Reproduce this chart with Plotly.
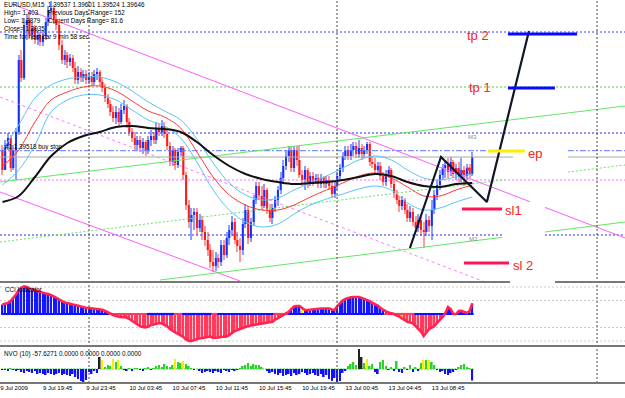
import plotly.graph_objects as go

# ---------------- data ----------------
PRICE_BASE = 1.3800          # price = PRICE_BASE + pips * PIP
PIP = 0.0001

FIRST_BAR = -15              # bar index 0 = 9 Jul 19:45 (EURUSD, M15)
first_open_pips = 150

close_pips = [
    130, 155, 162, 132, 150, 168, 240, 222, 275, 280,
    265, 272, 260, 265, 258, 264, 278, 290, 292, 280,
    275, 255, 240, 245, 238, 242, 232, 220, 228, 222,
    226, 220, 224, 218, 226, 228, 218, 212, 202, 196,
    188, 182, 188, 178, 190, 194, 178, 168, 162, 155,
    160, 152, 158, 150, 160, 164, 160, 172, 168, 174,
    166, 154, 138, 150, 135, 148, 152, 125, 95, 78,
    85, 88, 72, 80, 68, 60, 50, 38, 34, 42,
    38, 55, 45, 62, 70, 78, 60, 54, 50, 76,
    90, 62, 78, 100, 114, 104, 94, 110, 90, 82,
    92, 100, 110, 122, 134, 144, 150, 132, 150, 140,
    125, 120, 130, 118, 124, 118, 122, 116, 122, 116,
    120, 114, 106, 114, 124, 132, 144, 150, 144, 150,
    154, 146, 152, 146, 150, 156, 138, 136, 130, 134,
    124, 118, 126, 130, 116, 106, 100, 94, 100, 90,
    82, 88, 78, 72, 80, 70, 68, 80, 74, 90,
    105, 115, 125, 132, 135, 128, 138, 126, 132, 124,
    130, 124, 132, 126, 143]

high_pips = [
    155, 160, 167, 165, 155, 172, 245, 250, 282, 286,
    288, 278, 275, 270, 268, 270, 282, 294, 299, 295,
    285, 278, 260, 250, 248, 246, 245, 238, 234, 232,
    230, 230, 228, 228, 230, 232, 230, 222, 216, 206,
    200, 194, 194, 192, 196, 200, 196, 182, 172, 168,
    164, 164, 162, 160, 164, 170, 168, 178, 176, 180,
    178, 170, 158, 154, 152, 152, 154, 154, 128, 100,
    92, 92, 92, 86, 84, 74, 68, 56, 50, 48,
    46, 60, 60, 68, 75, 84, 82, 68, 62, 82,
    96, 94, 82, 105, 118, 118, 114, 116, 112, 96,
    96, 104, 114, 128, 140, 150, 154, 153, 154, 154,
    154, 130, 134, 132, 128, 128, 126, 126, 126, 124,
    124, 124, 120, 118, 128, 136, 148, 154, 154, 156,
    158, 158, 160, 156, 154, 158, 158, 144, 142, 138,
    138, 128, 130, 134, 132, 120, 110, 104, 104, 102,
    96, 94, 92, 84, 86, 84, 78, 86, 84, 100,
    110, 120, 130, 136, 140, 142, 143, 140, 136, 138,
    142, 134, 136, 136, 148]

low_pips = [
    125, 130, 150, 128, 130, 120, 165, 218, 220, 260,
    262, 260, 256, 255, 254, 254, 260, 274, 282, 276,
    270, 250, 236, 235, 232, 234, 228, 216, 216, 218,
    218, 216, 216, 214, 215, 220, 214, 208, 198, 192,
    184, 178, 176, 174, 176, 186, 172, 164, 158, 150,
    150, 148, 146, 144, 146, 154, 156, 156, 164, 164,
    162, 150, 134, 134, 130, 132, 144, 120, 90, 72,
    60, 70, 65, 68, 60, 54, 44, 32, 28, 29,
    32, 34, 40, 42, 55, 64, 56, 48, 38, 45,
    72, 56, 58, 74, 96, 100, 90, 92, 86, 78,
    76, 88, 94, 106, 118, 130, 138, 128, 128, 134,
    122, 114, 110, 112, 114, 114, 116, 112, 112, 112,
    112, 110, 102, 102, 110, 120, 128, 140, 140, 140,
    144, 142, 142, 140, 142, 146, 134, 132, 126, 126,
    120, 114, 114, 122, 112, 102, 96, 88, 90, 86,
    78, 78, 74, 68, 68, 64, 52, 64, 68, 60,
    86, 100, 110, 120, 122, 122, 124, 122, 120, 118,
    118, 114, 120, 122, 124]

# moving-average envelope, read every 6 bars
ma_bars = [-15, -9, -3, 3, 9, 15, 21, 27, 33, 39, 45, 51, 57, 63, 69,
           75, 81, 87, 93, 99, 105, 111, 117, 123, 129, 135, 141, 147, 153, 159]
ma_slow_pips = [98, 104, 123, 144, 157, 164, 168, 173, 174, 172, 171, 168, 158, 145, 134,
                126, 121, 118, 116, 117, 118, 120, 123, 126, 124, 118, 114, 113, 116, 117]
ma_mid_pips = [134, 150, 178, 200, 208, 213, 214, 209, 199, 189, 183, 172, 148, 123, 105,
               95, 90, 90, 95, 103, 110, 117, 124, 127, 122, 113, 104, 104, 110, 115]
band_up_pips = [150, 175, 202, 215, 221, 223, 223, 218, 209, 198, 189, 180, 161, 137, 117,
                105, 100, 102, 110, 117, 124, 132, 140, 144, 140, 130, 122, 120, 123, 126]
band_lo_pips = [115, 130, 155, 188, 200, 205, 205, 200, 190, 180, 174, 162, 138, 110, 90,
                78, 73, 76, 86, 95, 101, 106, 111, 114, 110, 97, 90, 92, 98, 103]

cci_values = [
    70, 74, 81, 96, 119, 144, 178, 196, 204, 200,
    189, 181, 178, 170, 163, 156, 152, 148, 141, 130,
    119, 107, 96, 85, 81, 74, 70, 67, 59, 56,
    52, 44, 44, 41, 41, 39, 37, 32, 22, 11,
    0, -7, -15, -22, -24, -24, -26, -37, -52, -63,
    -78, -91, -96, -99, -93, -81, -78, -70, -67, -70,
    -81, -91, -111, -126, -137, -148, -159, -170, -189, -200,
    -200, -193, -185, -180, -178, -174, -170, -167, -178, -178,
    -174, -170, -170, -167, -156, -141, -126, -119, -111, -106,
    -96, -89, -85, -81, -78, -74, -70, -67, -63, -59,
    -57, -41, -30, -19, -7, 0, 15, 37, 56, 59,
    59, 44, 30, 30, 33, 35, 37, 37, 41, 41,
    42, 41, 33, 30, 59, 81, 99, 111, 119, 124,
    126, 128, 126, 119, 111, 104, 96, 81, 70, 63,
    44, 30, 19, 11, 7, 0, -11, -19, -33, -48,
    -57, -63, -69, -89, -111, -130, -163, -133, -111, -100,
    -89, -63, -44, -22, 5, 52, 37, 0, 0, 22,
    24, 15, 7, 22, 78]
cci_yellow_bars = [27, 96, 133]
cci_zero_segments = [(-15, 24, "b"), (25, 38, "r"), (39, 48, "b"), (49, 51, "r"),
                     (52, 62, "b"), (63, 64, "r"), (65, 85, "b"), (86, 90, "r"),
                     (91, 126, "b"), (127, 137, "r"), (138, 159, "b")]
cci_levels = [200, 100, -100, -200]

nvo_values = [
    -5, -5, -10, 5, -5, -10, -5, -15, -20, -10,
    -15, -20, -10, -25, -20, -25, -30, -20, -25, -30,
    -25, -20, -30, -25, -30, -35, -25, -40, -50, -60,
    -65, -55, -15, -25, -10, -20, 60, 45, 10, 20,
    15, 50, 35, 45, 15, -5, -10, 5, -10, 5,
    5, -5, -10, 5, 10, -5, 5, 15, 20, 10,
    25, 15, 10, 20, 50, 35, 30, 40, 25, 15,
    5, -5, 0, -10, -20, -15, -10, -15, -20, -10,
    -15, -20, -5, -10, -15, -5, -10, -5, 5, 15,
    20, 30, 15, 25, 20, 20, 10, 0, -10, -20,
    -15, -25, -30, -20, -35, -30, -25, -35, -20, -30,
    -25, -15, -20, -30, -25, -20, -30, -35, -25, -40,
    -30, -50, -60, -45, -65, -60, -20, -10, 15, 25,
    35, 20, 100, 60, 30, 50, 15, 25, -15, -25,
    35, 45, 15, -5, 10, -10, 40, -15, -20, 10,
    -5, 20, -15, 10, -10, 30, 45, 45, 45, 35,
    20, -5, -15, -10, -25, -30, -20, -15, -5, 10,
    20, 25, 10, 5, -57.6271]
nvo_yellow_bars = [22, 26, 28, 49, 52, 120, 141, 143]
nvo_black_bars = [21, 117, 118]

tick_bars = [-15.85, 0, 16, 32, 48, 64, 80, 96, 112, 128, 144]
tick_labels = ["9 Jul 2009", "9 Jul 19:45", "9 Jul 23:45", "10 Jul 03:45", "10 Jul 07:45",
               "10 Jul 11:45", "10 Jul 15:45", "10 Jul 19:45", "13 Jul 00:45",
               "13 Jul 04:45", "13 Jul 08:45"]
day_separator_bars = [17.04, 108.9, 205.2]

# horizontal levels (pips) and the stretches where they are hidden
level_tp2 = 268
level_tp1 = 213
level_m3 = 167
level_buystop = 149.3
level_bid = 143
level_pink = 120
level_m2 = 65

# trend lines: (bar0, pips0, bar1, pips1)
tl_magenta_top = (-11.5, 296, 215.6, 62)
tl_magenta_low = (-15.93, 108, 72.96, 19)
tl_pink_dash = (-15.93, 203, 163.7, 18)
tl_green_up = (-15.93, 118, 215.6, 194)
tl_green_low = (43.3, 20, 215.6, 78)
tl_green_dot = (-15.93, 58, 215.6, 135)

zigzag_bars = [135.9, 147.4, 164.4, 180.0]
zigzag_pips = [52, 143, 98, 269]

# trade plan marks: (bar0, bar1, pips)
mark_tp2 = (172.2, 197.8, 266)
mark_tp1 = (172.2, 189.6, 212)
mark_ep = (164.8, 178.5, 149)
mark_sl1 = (155.2, 170.0, 91)
mark_sl2 = (155.9, 172.6, 37)

plan_labels = ["tp 2", "tp 1", "ep", "sl1", "sl 2"]
plan_label_bars = [156.3, 157.0, 179.0, 170.4, 173.3]
plan_label_pips = [265, 213, 147, 90, 35]
murrey_labels = ["M3", "M2"]
murrey_label_bars = [158.9, 159.3]
murrey_label_pips = [163, 61]

fractal_bars = [153, 155.5, 157.5]
fractal_pips = [130, 128, 131]

header_lines = ["EURUSD,M15  1.39537 1.39601 1.39524 1.39646",
                "High= 1.403", "Low= 1.3879", "Close= 1.3935",
                "Time for next bar 9 min 58 sec"]
header_right = ["Previous Days Range= 152", "Current Days Range= 81.6"]
order_text = "#1 1.39518 buy stop"
cci_title = "CCI Indicator"
nvo_title = "NVO (10) -57.6271 0.0000 0.0000 0.0000 0.0000"

# ---------------- build ----------------
n = len(close_pips)
assert len(high_pips) == n and len(low_pips) == n, (len(high_pips), len(low_pips), n)
assert len(cci_values) == n and len(nvo_values) == n, (len(cci_values), len(nvo_values))
bars = list(range(FIRST_BAR, FIRST_BAR + n))


def price(p):
    return None if p is None else PRICE_BASE + p * PIP


opens = [first_open_pips] + close_pips[:-1]

W, H = 625, 398
PB = 15                   # bottom margin (x labels)
PH = H - PB               # plot area height in px
XR = [-15.93, 215.56]


def py(px):               # pixel row -> paper y
    return (PH - px) / PH


def pxx(px):              # pixel column -> paper x
    return px / W


MAIN_DOM = [py(281), 1]
CCI_DOM = [py(345), py(283)]
NVO_DOM = [0, py(347)]

fig = go.Figure()

BLUE_BODY, BLUE_WICK = "#1430ff", "#8c9cff"
RED_BODY, RED_WICK = "#ff1a1a", "#ff9a9a"

# candles
for is_up, body_c, wick_c in [(True, BLUE_BODY, BLUE_WICK), (False, RED_BODY, RED_WICK)]:
    idx = [k for k in range(n) if (close_pips[k] >= opens[k]) == is_up]
    xs = [bars[k] for k in idx]
    fig.add_trace(go.Bar(
        x=xs, y=[(high_pips[k] - low_pips[k]) * PIP for k in idx],
        base=[price(low_pips[k]) for k in idx], width=0.4,
        marker=dict(color=wick_c, line=dict(width=0)), xaxis="x", yaxis="y",
        showlegend=False, hoverinfo="skip"))
    fig.add_trace(go.Bar(
        x=xs, y=[max(abs(close_pips[k] - opens[k]), 1) * PIP for k in idx],
        base=[price(min(close_pips[k], opens[k])) for k in idx], width=0.75,
        marker=dict(color=body_c, line=dict(width=0)), xaxis="x", yaxis="y",
        showlegend=False, hoverinfo="skip"))


def add_line(xs, ys, color, width=1, dash="solid", shape="linear", axis=("x", "y")):
    fig.add_trace(go.Scatter(x=xs, y=[price(v) for v in ys], mode="lines",
                             line=dict(color=color, width=width, dash=dash, shape=shape),
                             xaxis=axis[0], yaxis=axis[1], showlegend=False,
                             hoverinfo="skip", connectgaps=False))


def gapped(x0, y0, x1, y1, gaps):
    xs, ys = [x0], [y0]
    for g0, g1 in gaps:
        t0 = (g0 - x0) / (x1 - x0)
        t1 = (g1 - x0) / (x1 - x0)
        xs += [g0, None, g1]
        ys += [y0 + (y1 - y0) * t0, None, y0 + (y1 - y0) * t1]
    xs.append(x1)
    ys.append(y1)
    return xs, ys


DOT = "2px,2px"
GAP_A = [(174.1, 194.4)]

# horizontal levels
add_line(*gapped(XR[0], level_tp2, XR[1], level_tp2, []), "#3c3cff", 1, DOT)
add_line(*gapped(XR[0], level_tp1, XR[1], level_tp1, []), "#4cd24c", 1, DOT)
add_line(*gapped(XR[0], level_m3, XR[1], level_m3, []), "#2424e6", 1, DOT)
add_line(*gapped(XR[0], level_buystop, XR[1], level_buystop, [(164.8, 194.4)]),
         "#5a78ff", 1, "6px,2px,2px,2px")
add_line(*gapped(XR[0], level_bid, XR[1], level_bid, GAP_A), "#a8a8a8", 1)
add_line(*gapped(XR[0], level_pink, XR[1], level_pink, []), "#ff6cff", 1, DOT)
add_line(*gapped(XR[0], level_m2, XR[1], level_m2, [(170.4, 185.9)]), "#2828e6", 1, DOT)

# trend lines
add_line(*gapped(*tl_magenta_top, [(180.4, 185.9)]), "#ff5cff", 1)
add_line(*gapped(*tl_magenta_low, []), "#ff5cff", 1)
add_line(*gapped(*tl_pink_dash, []), "#ff7cff", 1, "3px,3px")
add_line(*gapped(*tl_green_up, []), "#62e662", 1)
add_line(*gapped(*tl_green_low, [(170.0, 185.9)]), "#62e662", 1)
add_line(*gapped(*tl_green_dot, [(171.1, 194.4)]), "#62e662", 1, DOT)

# envelope and moving averages
add_line(ma_bars, band_up_pips, "#5cc4f4", 1, shape="spline")
add_line(ma_bars, band_lo_pips, "#5cc4f4", 1, shape="spline")
add_line(ma_bars, ma_mid_pips, "#ff3a3a", 1, shape="spline")
add_line(ma_bars, ma_slow_pips, "#111111", 2, shape="spline")

# fractal marks
fig.add_trace(go.Scatter(x=fractal_bars, y=[price(v) for v in fractal_pips], mode="markers",
                         marker=dict(symbol="square", size=3, color="#ff2020"),
                         xaxis="x", yaxis="y", showlegend=False, hoverinfo="skip"))

# projection zigzag
add_line(zigzag_bars, zigzag_pips, "#101828", 2.2)

# trade plan marks
for (b0, b1, lv), col in [(mark_tp2, "#0a0aff"), (mark_tp1, "#0a0aff"), (mark_ep, "#ffee00"),
                          (mark_sl1, "#ff1456"), (mark_sl2, "#ff1456")]:
    add_line([b0, b1], [lv, lv], col, 3.2)

# ---------- CCI ----------
cci_cols = []
for k, v in enumerate(cci_values):
    if bars[k] in cci_yellow_bars:
        cci_cols.append("#ffe600")
    elif v >= 0:
        cci_cols.append("#1616ff")
    else:
        cci_cols.append("#ff3a5c")
fig.add_trace(go.Bar(x=bars, y=cci_values, width=0.6, marker=dict(color=cci_cols, line=dict(width=0)),
                     xaxis="x2", yaxis="y2", showlegend=False, hoverinfo="skip"))
for s0, s1, c in cci_zero_segments:
    fig.add_trace(go.Scatter(x=[s0 - 0.5, s1 + 0.5], y=[0, 0], mode="lines",
                             line=dict(color="#1010ff" if c == "b" else "#ff3a5c", width=2.2),
                             xaxis="x2", yaxis="y2", showlegend=False, hoverinfo="skip"))
fig.add_trace(go.Scatter(x=bars, y=cci_values, mode="lines",
                         line=dict(color="#ff2452", width=2.6),
                         xaxis="x2", yaxis="y2", showlegend=False, hoverinfo="skip"))

# ---------- NVO ----------
nvo_cols = []
for k, v in enumerate(nvo_values):
    if v < 0:
        nvo_cols.append("#1010ff")
    elif bars[k] in nvo_black_bars:
        nvo_cols.append("#222222")
    elif bars[k] in nvo_yellow_bars:
        nvo_cols.append("#f2f200")
    else:
        nvo_cols.append("#2ed22e")
fig.add_trace(go.Bar(x=bars, y=nvo_values, width=0.6, marker=dict(color=nvo_cols, line=dict(width=0)),
                     xaxis="x3", yaxis="y3", showlegend=False, hoverinfo="skip"))

shapes = []
# CCI dotted levels
for lv in cci_levels:
    shapes.append(dict(type="line", xref="paper", x0=0, x1=1, yref="y2", y0=lv, y1=lv,
                       line=dict(color="#cfc4c8", width=1, dash=DOT), layer="below"))
# NVO zero line
shapes.append(dict(type="line", xref="x3", x0=FIRST_BAR - 0.5, x1=bars[-1] + 0.5, yref="y3", y0=0, y1=0,
                   line=dict(color="#3cc83c", width=1, dash="2px,1px"), layer="below"))
# day separators
for b in day_separator_bars:
    shapes.append(dict(type="line", xref="x3", x0=b, x1=b, yref="paper", y0=0, y1=1,
                       line=dict(color="#4a4a4a", width=1, dash=DOT)))
# panel separators
SEP = "#777777"
shapes.append(dict(type="line", xref="paper", x0=0, x1=pxx(510), yref="paper", y0=py(282), y1=py(282),
                   line=dict(color=SEP, width=2)))
shapes.append(dict(type="line", xref="paper", x0=pxx(555), x1=1, yref="paper", y0=py(282), y1=py(282),
                   line=dict(color=SEP, width=2)))
shapes.append(dict(type="line", xref="paper", x0=0, x1=1, yref="paper", y0=py(346), y1=py(346),
                   line=dict(color=SEP, width=2)))
shapes.append(dict(type="line", xref="paper", x0=0, x1=1, yref="paper", y0=py(383), y1=py(383),
                   line=dict(color=SEP, width=2)))

FONT = "Liberation Sans"
ann = []
hdr_rows = [5, 12.7, 20.7, 28.3, 36]
for txt, row in zip(header_lines, hdr_rows):
    ann.append(dict(text=txt, x=pxx(2), y=py(row), xref="paper", yref="paper",
                    xanchor="left", yanchor="middle", showarrow=False,
                    font=dict(family=FONT, size=6.3, color="#000000")))
for txt, row in zip(header_right, hdr_rows[1:3]):
    ann.append(dict(text=txt, x=pxx(46), y=py(row), xref="paper", yref="paper",
                    xanchor="left", yanchor="middle", showarrow=False,
                    font=dict(family=FONT, size=6.3, color="#000000")))
ann.append(dict(text=order_text, x=pxx(3), y=py(147), xref="paper", yref="paper",
                xanchor="left", yanchor="middle", showarrow=False,
                font=dict(family=FONT, size=6.3, color="#000000")))
ann.append(dict(text=cci_title, x=pxx(3), y=py(289.5), xref="paper", yref="paper",
                xanchor="left", yanchor="middle", showarrow=False,
                font=dict(family=FONT, size=6.3, color="#000000")))
ann.append(dict(text=nvo_title, x=pxx(2), y=py(354), xref="paper", yref="paper",
                xanchor="left", yanchor="middle", showarrow=False,
                font=dict(family=FONT, size=6.3, color="#000000")))
for txt, b, p in zip(plan_labels, plan_label_bars, plan_label_pips):
    ann.append(dict(text=txt, x=b, y=price(p), xref="x", yref="y", xanchor="left",
                    yanchor="middle", showarrow=False,
                    font=dict(family=FONT, size=13, color="#ff2020")))
for txt, b, p in zip(murrey_labels, murrey_label_bars, murrey_label_pips):
    ann.append(dict(text=txt, x=b, y=price(p), xref="x", yref="y", xanchor="center",
                    yanchor="middle", showarrow=False,
                    font=dict(family=FONT, size=6, color="#8a8a8a")))

hidden_x = dict(range=XR, visible=False, showgrid=False, zeroline=False, fixedrange=True)
fig.update_layout(
    width=W, height=H, margin=dict(l=0, r=0, t=0, b=PB),
    paper_bgcolor="white", plot_bgcolor="white", barmode="overlay", showlegend=False,
    hovermode=False,
    xaxis=dict(anchor="y", matches="x3", **hidden_x),
    xaxis2=dict(anchor="y2", matches="x3", **hidden_x),
    xaxis3=dict(anchor="y3", range=XR, showgrid=False, zeroline=False, showline=False,
                tickmode="array", tickvals=tick_bars, ticktext=tick_labels, ticks="",
                ticklabelposition="outside right",
                tickfont=dict(family=FONT, size=6, color="#000000"), fixedrange=True),
    yaxis=dict(domain=MAIN_DOM, range=[price(19), price(300)], visible=False, fixedrange=True),
    yaxis2=dict(domain=CCI_DOM, range=[-229.6, 229.6], visible=False, fixedrange=True),
    yaxis3=dict(domain=NVO_DOM, range=[-70, 110], visible=False, fixedrange=True),
    shapes=shapes, annotations=ann,
)

fig.write_html("out.html")
